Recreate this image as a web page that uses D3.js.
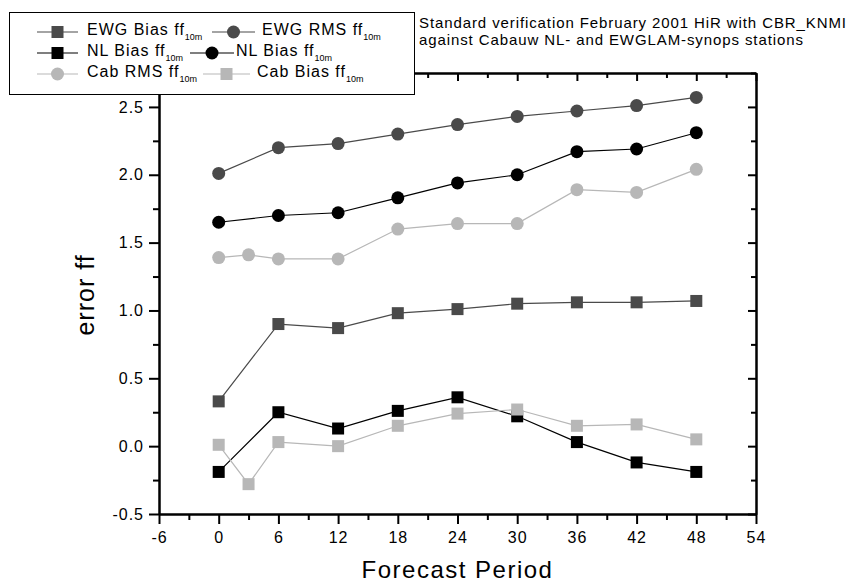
<!DOCTYPE html>
<html>
<head>
<meta charset="utf-8">
<script src="https://cdn.jsdelivr.net/npm/d3@7"></script>
<style>
  body { margin: 0; background: #fff; }
  svg { font-family: "Liberation Sans", Arial, sans-serif; }
  .axis path, .axis line { stroke: #000; stroke-width: 2px; }
  .axis text { font-size: 16px; fill: #000; letter-spacing: 1px; }
</style>
</head>
<body>
<svg id="chart" width="867" height="585"></svg>
<script>
// data
var hours = [0, 6, 12, 18, 24, 30, 36, 42, 48];
var cabHours = [0, 3, 6, 12, 18, 24, 30, 36, 42, 48];
var ewgBias = [0.33, 0.90, 0.87, 0.98, 1.01, 1.05, 1.06, 1.06, 1.07];
var ewgRms = [2.01, 2.20, 2.23, 2.30, 2.37, 2.43, 2.47, 2.51, 2.57];
var nlBias = [-0.19, 0.25, 0.13, 0.26, 0.36, 0.22, 0.03, -0.12, -0.19];
var nlRms = [1.65, 1.70, 1.72, 1.83, 1.94, 2.00, 2.17, 2.19, 2.31];
var cabRms = [1.39, 1.41, 1.38, 1.38, 1.60, 1.64, 1.64, 1.89, 1.87, 2.04];
var cabBias = [0.01, -0.28, 0.03, 0.00, 0.15, 0.24, 0.27, 0.15, 0.16, 0.05];
var xTicks = [-6, 0, 6, 12, 18, 24, 30, 36, 42, 48, 54];
var yTicks = [-0.5, 0.0, 0.5, 1.0, 1.5, 2.0, 2.5];

var dark = "#4a4a4a", light = "#b7b7b7", black = "#000";

var series = [
    {name: "EWG Bias ff", x: hours, y: ewgBias, color: dark, shape: "square"},
    {name: "EWG RMS ff", x: hours, y: ewgRms, color: dark, shape: "circle"},
    {name: "NL Bias ff", x: hours, y: nlBias, color: black, shape: "square"},
    {name: "NL Bias ff", x: hours, y: nlRms, color: black, shape: "circle"},
    {name: "Cab RMS ff", x: cabHours, y: cabRms, color: light, shape: "circle"},
    {name: "Cab Bias ff", x: cabHours, y: cabBias, color: light, shape: "square"}
];

var svg = d3.select("#chart");
var plot = {left: 159, right: 756, top: 73, bottom: 514};

var xScale = d3.scaleLinear().domain([-6, 54]).range([plot.left, plot.right]);
var yScale = d3.scaleLinear().domain([-0.5, 2.75]).range([plot.bottom, plot.top]);

var xMinor = d3.range(-3, 54, 6);
var yMinor = d3.range(-0.25, 2.8, 0.5);

// plain hyphen instead of unicode minus
var fmtX = function(d){ return String(d); };
var fmtY = function(d){ return d3.format(".1f")(d).replace("\u2212", "-"); };

// bottom / left (outward ticks, labelled)
svg.append("g").attr("class", "axis")
    .attr("transform", "translate(0," + plot.bottom + ")")
    .call(d3.axisBottom(xScale).tickValues(xTicks).tickSize(10).tickSizeOuter(0).tickPadding(8).tickFormat(fmtX));
svg.append("g").attr("class", "axis")
    .attr("transform", "translate(0," + plot.bottom + ")")
    .call(d3.axisBottom(xScale).tickValues(xMinor).tickSize(6).tickSizeOuter(0).tickFormat(""));
svg.append("g").attr("class", "axis")
    .attr("transform", "translate(" + plot.left + ",0)")
    .call(d3.axisLeft(yScale).tickValues(yTicks).tickSize(10).tickSizeOuter(0).tickPadding(5).tickFormat(fmtY));
svg.append("g").attr("class", "axis")
    .attr("transform", "translate(" + plot.left + ",0)")
    .call(d3.axisLeft(yScale).tickValues(yMinor).tickSize(6).tickSizeOuter(0).tickFormat(""));

// top / right mirror (inward ticks)
svg.append("g").attr("class", "axis")
    .attr("transform", "translate(0," + plot.top + ")")
    .call(d3.axisBottom(xScale).tickValues(xTicks).tickSize(8).tickSizeOuter(0).tickFormat(""));
svg.append("g").attr("class", "axis")
    .attr("transform", "translate(0," + plot.top + ")")
    .call(d3.axisBottom(xScale).tickValues(xMinor).tickSize(5).tickSizeOuter(0).tickFormat(""));
svg.append("g").attr("class", "axis")
    .attr("transform", "translate(" + plot.right + ",0)")
    .call(d3.axisLeft(yScale).tickValues(yTicks).tickSize(8).tickSizeOuter(0).tickFormat(""));
svg.append("g").attr("class", "axis")
    .attr("transform", "translate(" + plot.right + ",0)")
    .call(d3.axisLeft(yScale).tickValues(yMinor).tickSize(5).tickSizeOuter(0).tickFormat(""));

// lines + markers
var line = d3.line().x(function(d){ return xScale(d[0]); }).y(function(d){ return yScale(d[1]); });

function drawMarker(g, shape, color, cx, cy) {
    if (shape === "square") {
        g.append("rect").attr("x", cx - 6).attr("y", cy - 6)
            .attr("width", 12).attr("height", 12).attr("fill", color);
    } else {
        g.append("circle").attr("cx", cx).attr("cy", cy).attr("r", 6.5).attr("fill", color);
    }
}

series.forEach(function(s) {
    var pts = s.x.map(function(h, i){ return [h, s.y[i]]; });
    svg.append("path").datum(pts)
        .attr("d", line)
        .attr("fill", "none")
        .attr("stroke", s.color)
        .attr("stroke-width", 1.2);
    var g = svg.append("g");
    pts.forEach(function(p) {
        drawMarker(g, s.shape, s.color, xScale(p[0]), yScale(p[1]));
    });
});

// axis titles
svg.append("text")
    .attr("x", (plot.left + plot.right) / 2).attr("y", 578)
    .attr("text-anchor", "middle")
    .style("font-size", "24px").style("letter-spacing", "1.5px")
    .text("Forecast Period");
svg.append("text")
    .attr("transform", "translate(94,295) rotate(-90)")
    .attr("text-anchor", "middle")
    .style("font-size", "25px").style("letter-spacing", "1px")
    .text("error ff");

// title
svg.append("text").attr("x", 419).attr("y", 28)
    .style("font-size", "15px").style("letter-spacing", "0.9px")
    .text("Standard verification February 2001 HiR with CBR_KNMI");
svg.append("text").attr("x", 419).attr("y", 45)
    .style("font-size", "15px").style("letter-spacing", "0.9px")
    .text("against Cabauw NL- and EWGLAM-synops stations");

// legend
svg.append("rect").attr("x", 9.5).attr("y", 12.5).attr("width", 405).attr("height", 82)
    .attr("fill", "#fff").attr("stroke", "#000").attr("stroke-width", 1);

var legendPos = [
    {x0: 37, x1: 78, ty: 32, tx: 87},
    {x0: 212, x1: 255, ty: 32, tx: 262},
    {x0: 37, x1: 78, ty: 53, tx: 87},
    {x0: 190, x1: 234, ty: 53, tx: 236},
    {x0: 37, x1: 78, ty: 74, tx: 87},
    {x0: 203, x1: 250, ty: 74, tx: 257}
];

series.forEach(function(s, i) {
    var p = legendPos[i];
    var g = svg.append("g");
    g.append("line").attr("x1", p.x0).attr("x2", p.x1).attr("y1", p.ty).attr("y2", p.ty)
        .attr("stroke", s.color).attr("stroke-width", 1.2);
    drawMarker(g, s.shape, s.color, (p.x0 + p.x1) / 2, p.ty);
    var t = g.append("text").attr("x", p.tx).attr("y", p.ty + 3)
        .style("font-size", "16px").style("letter-spacing", "1px");
    t.append("tspan").text(s.name);
    t.append("tspan").attr("dy", 5).style("font-size", "9px").style("letter-spacing", "0px").text("10m");
});
</script>
</body>
</html>
